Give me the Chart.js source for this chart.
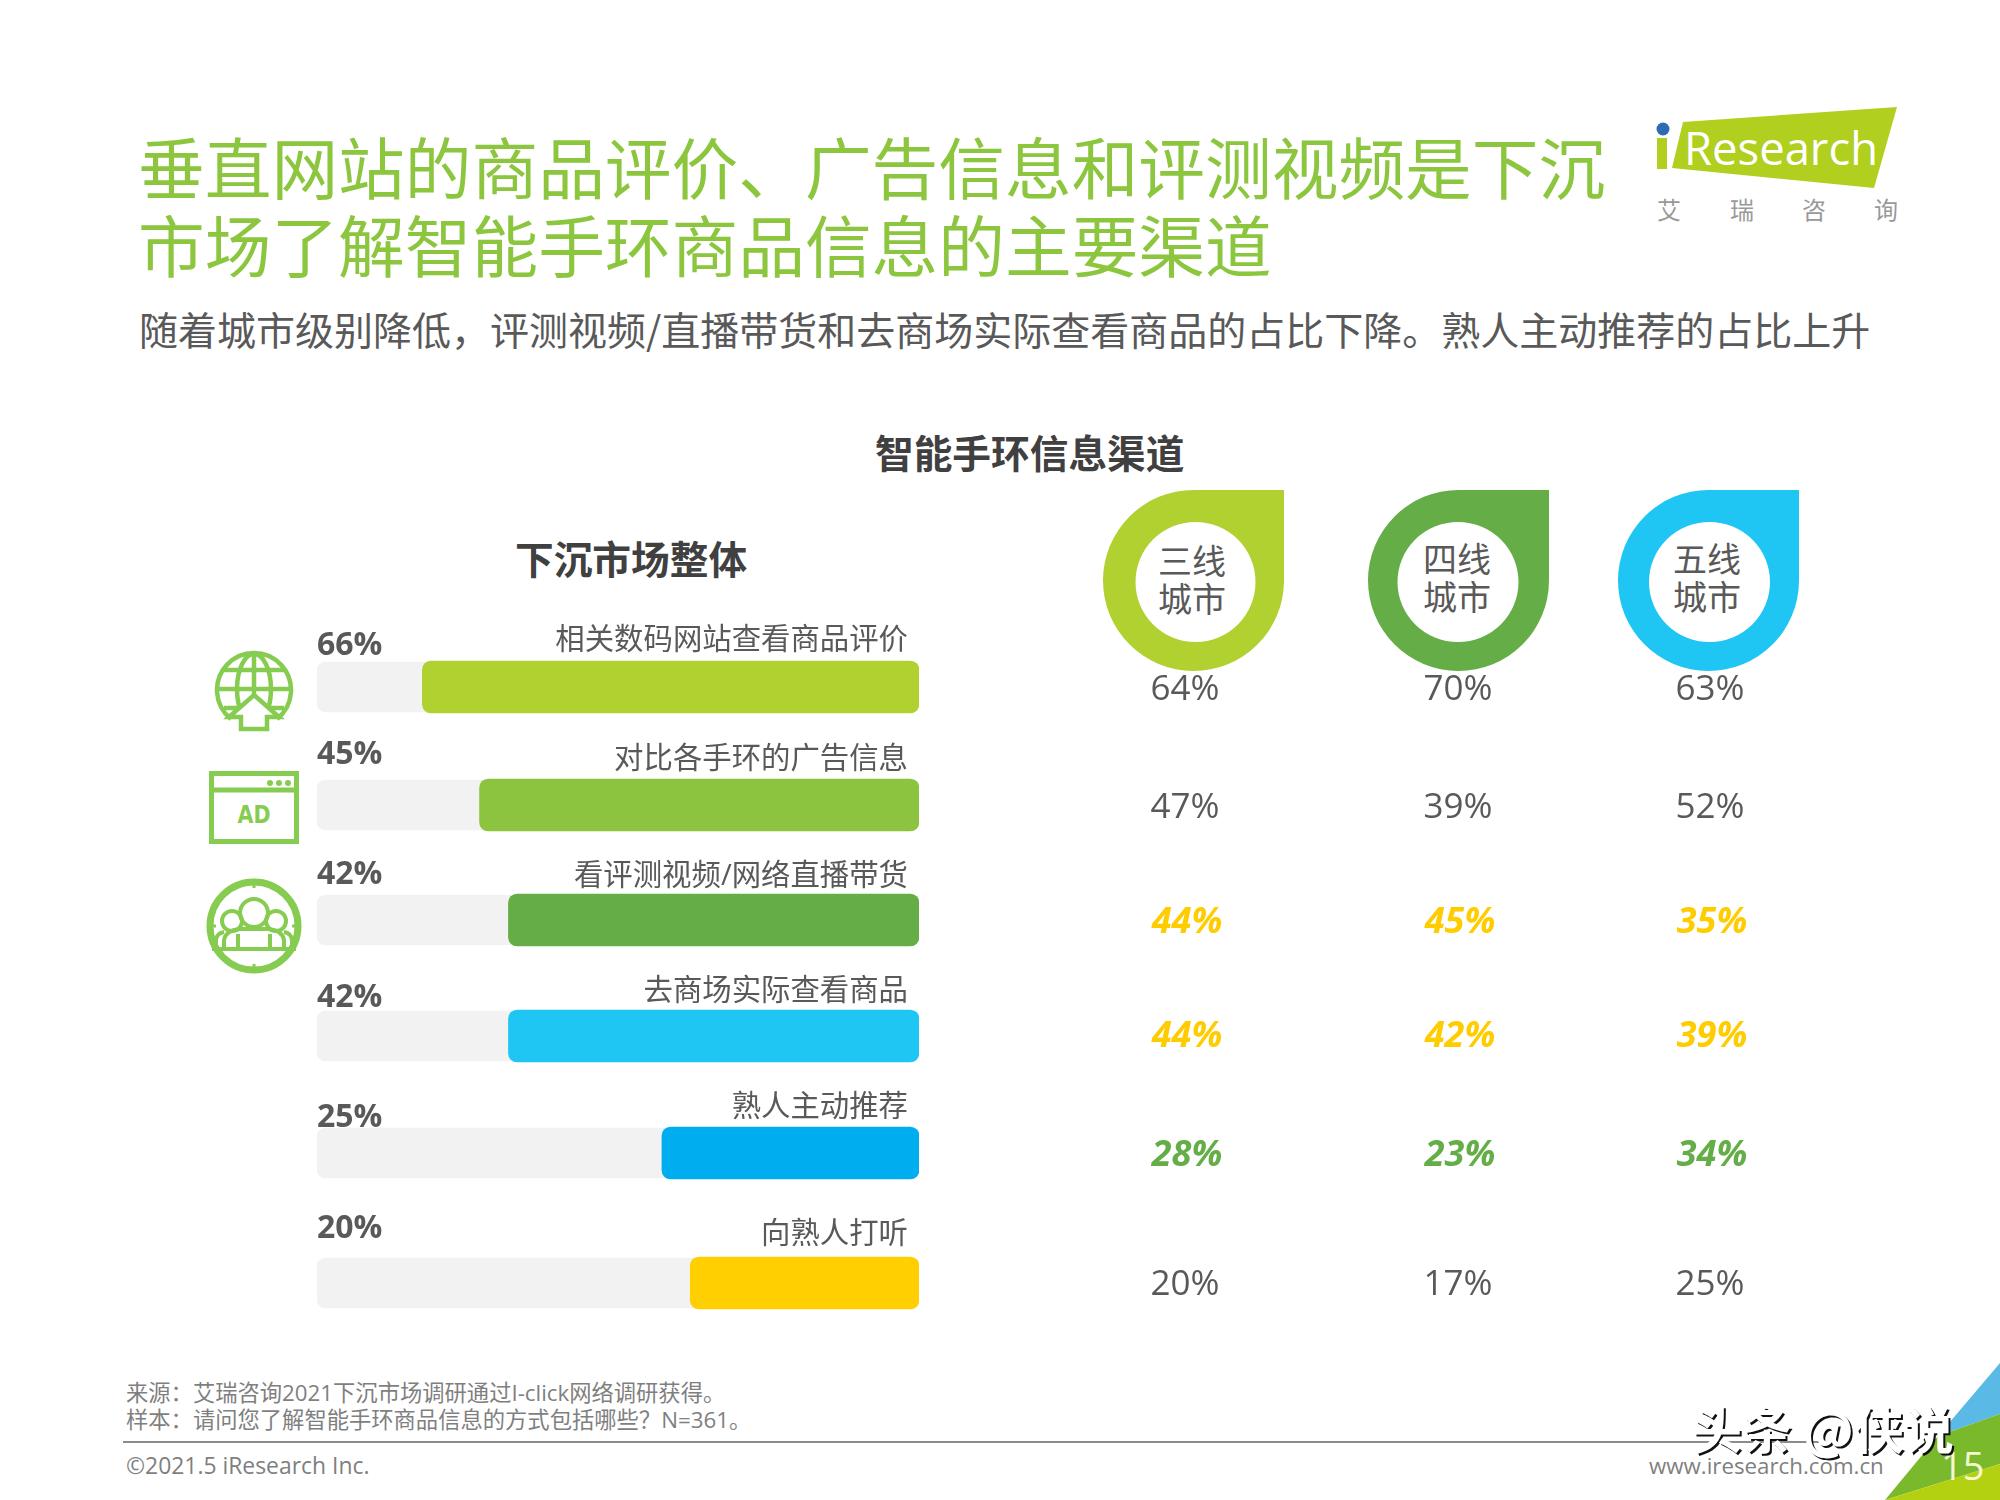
<!DOCTYPE html>
<html>
<head>
<meta charset="utf-8">
<script src="https://cdn.jsdelivr.net/npm/chart.js@4"></script>
<style>
html, body { margin: 0; padding: 0; background: #fff; }
#page { position: relative; width: 2000px; height: 1500px; overflow: hidden; font-family: "Open Sans", "Noto Sans CJK SC", sans-serif; }
#page div { position: absolute; white-space: nowrap; }
#page svg { position: absolute; left: 0; top: 0; }
#page canvas { position: absolute; }
.title { left: 138px; font-size: 66.7px; line-height: 80px; color: #8cc63f; font-family: "Noto Sans CJK SC"; font-weight: 400; }
.sub { left: 139px; top: 302px; font-size: 39px; line-height: 52px; color: #595959; font-family: "Noto Sans CJK SC"; }
.head { font-size: 38.7px; line-height: 50px; font-weight: 700; color: #404040; font-family: "Noto Sans CJK SC"; }
.foot { left: 126px; font-size: 22.3px; line-height: 28px; color: #7f7f7f; font-family: "Open Sans", "Noto Sans CJK SC"; }
.city { width: 100px; text-align: center; font-size: 34px; line-height: 38px; color: #595959; font-family: "Noto Sans CJK SC"; }
</style>
</head>
<body>
<div id="page">
  <svg width="2000" height="1500" viewBox="0 0 2000 1500">
    <!-- corner -->
    <polygon points="2000,1363 1938,1436 2000,1414" fill="#5bb9e6"/>
    <polygon points="2000,1414 1938,1436 1885,1500 2000,1464" fill="#7ab92c"/>
    <polygon points="2000,1464 1885,1500 2000,1500" fill="#b3d111"/>
    <line x1="123" y1="1442" x2="1830" y2="1442" stroke="#8c8c8c" stroke-width="2"/>

    <!-- logo -->
    <polygon points="1683,122 1897,107 1874,188 1672,168" fill="#b0cf1f"/>
    <rect x="1657" y="138" width="10" height="31" fill="#b0cf1f"/>
    <circle cx="1663" cy="129" r="6.5" fill="#2a6db5"/>
    <text x="1684" y="165" font-family="Open Sans" font-size="45" fill="#fff" textLength="194" lengthAdjust="spacingAndGlyphs">Research</text>
    <g font-family="Noto Sans CJK SC" font-size="24" fill="#999" text-anchor="middle">
      <text x="1669" y="219">艾</text><text x="1742" y="219">瑞</text><text x="1814" y="219">咨</text><text x="1886" y="219">询</text>
    </g>

    <!-- teardrops -->
    <path fill-rule="evenodd" fill="#b0d12f" d="M1284,490 V581 A90.5,90.5 0 1 1 1193.5,490 Z M1255.5,582 A60,60 0 1 0 1135.5,582 A60,60 0 1 0 1255.5,582 Z"/>
    <path fill-rule="evenodd" fill="#64ad47" d="M1549,490 V581 A90.5,90.5 0 1 1 1458.5,490 Z M1518.5,582 A60.5,60 0 1 0 1397.5,582 A60.5,60 0 1 0 1518.5,582 Z"/>
    <path fill-rule="evenodd" fill="#1fc6f4" d="M1799,490 V581 A90.5,90.5 0 1 1 1708.5,490 Z M1770,582 A60.5,60 0 1 0 1649,582 A60.5,60 0 1 0 1770,582 Z"/>

    <!-- globe icon -->
    <g fill="none" stroke="#86cc51" stroke-width="4.5">
      <path d="M231,719 A37,37 0 1 1 277,719"/>
      <ellipse cx="254" cy="689" rx="17" ry="35"/>
      <path d="M254,654 V700 M217,689 H291 M224,670 H284 M224,708 H238 M270,708 H284"/>
      <path d="M254,695 L279,717 H267 V729 H241 V717 H229 Z" fill="#fff"/>
    </g>
    <!-- ad icon -->
    <g fill="none" stroke="#86cc51" stroke-width="5">
      <rect x="211.5" y="773.5" width="85" height="68"/>
      <path d="M212,790 H296"/>
    </g>
    <g fill="#86cc51"><circle cx="270" cy="783" r="3"/><circle cx="279" cy="783" r="3"/><circle cx="288" cy="783" r="3"/></g>
    <text x="254" y="823" text-anchor="middle" font-family="DejaVu Sans" font-weight="700" font-size="24" fill="#86cc51" textLength="33" lengthAdjust="spacingAndGlyphs">AD</text>
    <!-- people icon -->
    <g fill="none" stroke="#86cc51">
      <circle cx="254" cy="926" r="44" stroke-width="7"/>
      <path d="M254,880 V888 M254,964 V972 M208,926 H216 M292,926 H300" stroke-width="3"/>
      <g stroke-width="4">
        <circle cx="254" cy="913" r="14"/>
        <circle cx="232" cy="921" r="10"/>
        <circle cx="276" cy="921" r="10"/>
        <path d="M224,948 V940 Q226,930 240,929 H268 Q282,930 284,940 V948 M216,948 V940 Q217,933 224,932 M292,948 V940 Q291,933 284,932 M212,949 H296 M238,948 V934 M270,948 V934"/>
      </g>
    </g>
  </svg>

  <div class="title" style="top:125px">垂直网站的商品评价、广告信息和评测视频是下沉</div>
  <div class="title" style="top:203px">市场了解智能手环商品信息的主要渠道</div>
  <div class="sub">随着城市级别降低&#xFF0C;评测视频/直播带货和去商场实际查看商品的占比下降。熟人主动推荐的占比上升</div>
  <div class="head" style="left:875px;top:426px">智能手环信息渠道</div>
  <div class="head" style="left:515px;top:532px">下沉市场整体</div>

  <div class="city" style="left:1142px;top:541px">三线<br>城市</div>
  <div class="city" style="left:1407px;top:539px">四线<br>城市</div>
  <div class="city" style="left:1657px;top:539px">五线<br>城市</div>

  <canvas id="barChart" width="602" height="740" style="left:317px;top:600px"></canvas>
  <canvas id="tierChart" width="760" height="740" style="left:1100px;top:600px"></canvas>

  <div class="foot" style="top:1379px">来源&#xFF1A;艾瑞咨询2021下沉市场调研通过I-click网络调研获得。</div>
  <div class="foot" style="top:1406px">样本&#xFF1A;请问您了解智能手环商品信息的方式包括哪些&#xFF1F;N=361。</div>
  <div class="foot" style="top:1452px;font-size:22.9px">©2021.5 iResearch Inc.</div>
  <div class="foot" style="left:1649px;top:1452px">www.iresearch.com.cn</div>
  <div style="left:1941px;top:1441px;font-size:38px;line-height:48px;color:#f4f7d0">15</div>
  <div style="left:1692px;top:1389px;font-size:50px;line-height:76px;font-weight:700;color:#fff;text-shadow:2px 2px 0 #111;font-family:'Noto Sans CJK SC'">头条 @侠说</div>
</div>

<script>
// values as printed in the picture
const channels = ["相关数码网站查看商品评价", "对比各手环的广告信息", "看评测视频/网络直播带货", "去商场实际查看商品", "熟人主动推荐", "向熟人打听"];
const overall = [66, 45, 42, 42, 25, 20];
// the drawn bars do not follow the printed percent, so their length is read separately (% of track)
const barLength = [82.5, 73, 68.2, 68.2, 42.7, 38];
const track = [100, 100, 100, 100, 100, 100];
const cities = ["三线城市", "四线城市", "五线城市"];
const tier3 = [64, 47, 44, 44, 28, 20];
const tier4 = [70, 39, 45, 42, 23, 17];
const tier5 = [63, 52, 35, 39, 34, 25];

const barColors = ["#b0d12f", "#8cc43f", "#64ad47", "#1fc6f4", "#00aeef", "#ffcf01"];
const rowInk = ["#595959", "#595959", "#ffcc00", "#ffcc00", "#64ad47", "#595959"];
const rowStrong = [false, false, true, true, true, false];
const textFont = '"Open Sans", "Noto Sans CJK SC", sans-serif';

// rows and columns of the slide are not evenly spaced
const barRows = [87, 205, 320, 436, 553, 683];
const tierRows = [90, 208, 323, 437, 556, 685];
const tierCols = [85, 358, 610];
const percentLift = [41, 50, 45, 38, 35, 54];
const nameLift = [46, 45, 43, 44, 45, 48];

class SlotScale extends Chart.CategoryScale {
    getPixelForValue(value) {
        const i = typeof value === "number" ? value : this.parse(value);
        return this.options.slots[i];
    }
}
SlotScale.id = "slots";
SlotScale.defaults = {};
Chart.register(SlotScale);

const barText = {
    id: "barText",
    afterDatasetsDraw(chart) {
        const ctx = chart.ctx;
        const bars = chart.getDatasetMeta(0).data;
        ctx.save();
        ctx.textBaseline = "middle";
        ctx.fillStyle = "#595959";
        bars.forEach((bar, i) => {
            ctx.textAlign = "left";
            ctx.font = "700 32px " + textFont;
            ctx.fillText(overall[i] + "%", 0, bar.y - percentLift[i]);
            ctx.textAlign = "right";
            ctx.font = "29.4px " + textFont;
            ctx.fillText(channels[i], 591, bar.y - nameLift[i]);
        });
        ctx.restore();
    }
};

new Chart(document.getElementById("barChart"), {
    type: "bar",
    data: {
        labels: channels,
        datasets: [
            { data: barLength, backgroundColor: barColors, barThickness: 52, borderRadius: 9, borderSkipped: false },
            { data: track, backgroundColor: "#f2f2f2", barThickness: 50, borderRadius: 9, borderSkipped: false }
        ]
    },
    options: {
        indexAxis: "y",
        responsive: false,
        animation: false,
        layout: { padding: 0 },
        plugins: { legend: { display: false }, title: { display: false }, tooltip: { enabled: false } },
        datasets: { bar: { grouped: false } },
        scales: {
            x: { display: false, reverse: true, min: 0, max: 100 },
            y: { type: "slots", display: false, slots: barRows }
        }
    },
    plugins: [barText]
});

const tierText = {
    id: "tierText",
    afterDatasetsDraw(chart) {
        const ctx = chart.ctx;
        ctx.save();
        ctx.textAlign = "center";
        ctx.textBaseline = "middle";
        chart.data.datasets.forEach((set, d) => {
            chart.getDatasetMeta(d).data.forEach((pt, i) => {
                ctx.fillStyle = rowInk[i];
                ctx.font = rowStrong[i] ? "italic 700 36px " + textFont : "35px " + textFont;
                ctx.fillText(set.data[i].value + "%", pt.x + (rowStrong[i] ? 2 : 0), pt.y);
            });
        });
        ctx.restore();
    }
};

function tierPoints(city, values) {
    return values.map((v, i) => ({ x: city, y: channels[i], value: v }));
}

new Chart(document.getElementById("tierChart"), {
    type: "scatter",
    data: {
        datasets: [
            { data: tierPoints(cities[0], tier3) },
            { data: tierPoints(cities[1], tier4) },
            { data: tierPoints(cities[2], tier5) }
        ]
    },
    options: {
        responsive: false,
        animation: false,
        layout: { padding: 0 },
        elements: { point: { radius: 0 } },
        plugins: { legend: { display: false }, title: { display: false }, tooltip: { enabled: false } },
        scales: {
            x: { type: "slots", display: false, labels: cities, slots: tierCols },
            y: { type: "slots", display: false, labels: channels, slots: tierRows }
        }
    },
    plugins: [tierText]
});
</script>
</body>
</html>
